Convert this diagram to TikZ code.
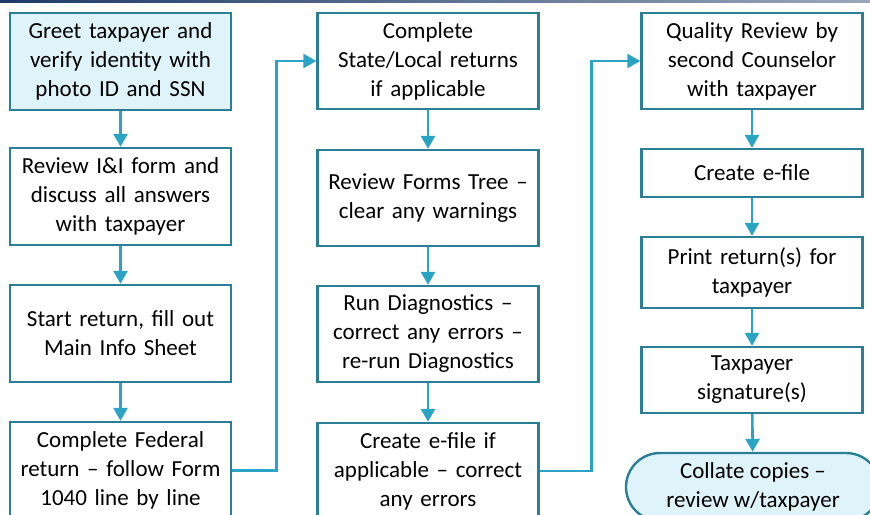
\documentclass[tikz,border=0pt]{standalone}
\usepackage{fontspec}
\setmainfont{Carlito}
\usepackage{xcolor}
\usepackage{tikz}
\usetikzlibrary{arrows.meta}
\usetikzlibrary{shapes.misc}

\definecolor{boxline}{HTML}{2A7F96}
\definecolor{flowline}{HTML}{2BA4C4}
\definecolor{boxfill}{HTML}{DEF4FA}
\definecolor{topbar}{HTML}{1F3A68}

\begin{document}
\begin{tikzpicture}[x=1pt, y=-1pt,
        stepbox/.style={rectangle, draw=boxline, line width=2.4pt, fill=white,
            minimum width=221pt, text width=215pt, align=center, inner sep=0pt,
            font=\fontsize{23}{29}\selectfont},
        startbox/.style={stepbox, fill=boxfill},
        endbox/.style={rounded rectangle, draw=boxline, line width=2.4pt, fill=boxfill,
            minimum width=254pt, minimum height=68pt, align=center, inner sep=0pt,
            font=\fontsize{23}{29}\selectfont},
        flow/.style={draw=flowline, line width=2.6pt, -{Triangle[width=14pt,length=13pt]}}]
        \useasboundingbox (0,0) rectangle (870,514);
        \clip (0,0) rectangle (870,514);
        \shade[left color=topbar, right color=topbar!45] (0,0) rectangle (870,2.5);
        % first column
        \node [startbox, minimum height=97pt] (greet) at (120.5,61.5)
            {Greet taxpayer and\\verify identity with\\photo ID and SSN};
        \node [stepbox, minimum height=97pt] (review) at (120.5,196.5)
            {Review I\&I form and\\discuss all answers\\with taxpayer};
        \node [stepbox, minimum height=97pt] (start) at (120.5,333.5)
            {Start return, fill out\\Main Info Sheet};
        \node [stepbox, minimum height=97pt] (federal) at (120.5,470.5)
            {Complete Federal\\return -- follow Form\\1040 line by line};
        % second column
        \node [stepbox, minimum height=96pt] (state) at (428,61)
            {Complete\\State/Local returns\\if applicable};
        \node [stepbox, minimum height=96pt] (forms) at (428,198)
            {Review Forms Tree --\\clear any warnings};
        \node [stepbox, minimum height=96pt] (diag) at (428,334)
            {Run Diagnostics --\\correct any errors --\\re-run Diagnostics};
        \node [stepbox, minimum height=96pt] (efileif) at (428,471)
            {Create e-file if\\applicable -- correct\\any errors};
        % third column
        \node [stepbox, minimum height=96pt] (quality) at (752,61)
            {Quality Review by\\second Counselor\\with taxpayer};
        \node [stepbox, minimum height=48pt] (efile) at (752,173)
            {Create e-file};
        \node [stepbox, minimum height=71pt] (print) at (752,272.5)
            {Print return(s) for\\taxpayer};
        \node [stepbox, minimum height=66pt] (sign) at (752,380)
            {Taxpayer\\signature(s)};
        \node [endbox] (collate) at (753,487)
            {Collate copies --\\review w/taxpayer};
        % connectors
        \draw [flow] (greet) -- (review);
        \draw [flow] (review) -- (start);
        \draw [flow] (start) -- (federal);
        \draw [flow] (federal.east) -- ++(44,0) |- (state.west);
        \draw [flow] (state) -- (forms);
        \draw [flow] (forms) -- (diag);
        \draw [flow] (diag) -- (efileif);
        \draw [flow] (efileif.east) -- ++(52,0) |- (quality.west);
        \draw [flow] (quality) -- (efile);
        \draw [flow] (efile) -- (print);
        \draw [flow] (print) -- (sign);
        \draw [flow] (sign) -- (collate);
    \end{tikzpicture}
\end{document}
